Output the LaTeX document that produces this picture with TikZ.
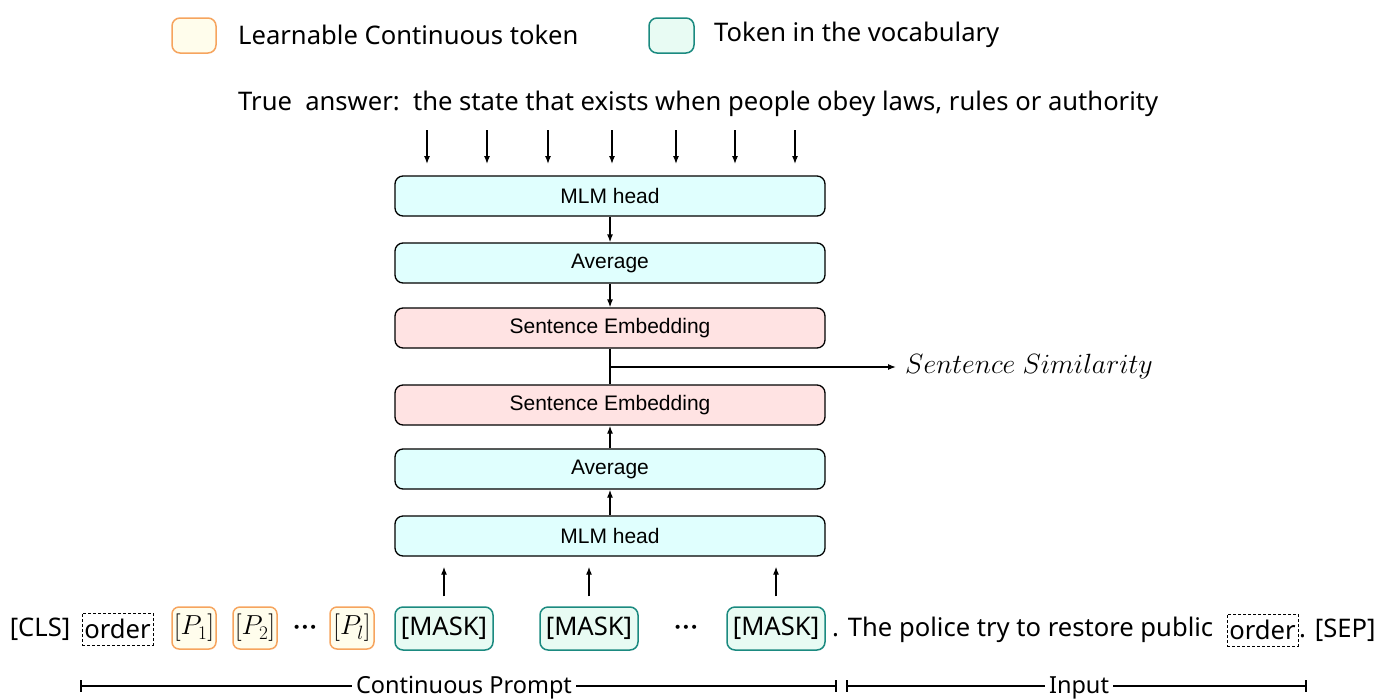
\documentclass[tikz,border=0pt]{standalone}
\usepackage{fix-cm}
\usepackage{fontspec}
\setmainfont{Noto Sans}
\newfontfamily\boxfont{Liberation Sans}
\newfontfamily\dotfont{DejaVu Sans}
\usetikzlibrary{arrows.meta}

\definecolor{cyanfill}{HTML}{E0FFFE}
\definecolor{pinkfill}{HTML}{FFE3E3}
\definecolor{orgborder}{HTML}{F6A45E}
\definecolor{orgfill}{HTML}{FFFDEC}
\definecolor{tealborder}{HTML}{1B8A80}
\definecolor{tealfill}{HTML}{E8FBF3}

\tikzset{
  layer/.style={draw=black, line width=1.3pt, rounded corners=8pt,
    minimum width=430pt, minimum height=40pt, inner sep=0pt,
    font=\boxfont\fontsize{21}{24}\selectfont},
  cyanlayer/.style={layer, fill=cyanfill},
  pinklayer/.style={layer, fill=pinkfill},
  learnable/.style={draw=orgborder, fill=orgfill, line width=1.5pt,
    rounded corners=7pt, minimum width=44pt, minimum height=42pt, inner sep=0pt,
    font=\fontsize{27.5}{30}\selectfont},
  vocab/.style={draw=tealborder, fill=tealfill, line width=1.5pt,
    rounded corners=8pt, minimum width=98pt, minimum height=43pt, inner sep=0pt},
  wordbox/.style={draw=black, dashed, line width=0.8pt, dash pattern=on 3pt off 2pt,
    minimum width=71pt, minimum height=32pt, inner sep=0pt},
  plain/.style={inner sep=0pt},
  ellipsis/.style={inner sep=0pt, font=\dotfont\fontsize{14}{16}\selectfont},
  spanlabel/.style={inner sep=0pt, fill=white, inner xsep=4pt,
    font=\fontsize{23.5}{26}\selectfont},
  arr/.style={-{Latex[length=8pt,width=6pt]}, line width=1.3pt},
  link/.style={line width=1.3pt},
}

\begin{document}
\begin{tikzpicture}[x=1pt,y=-1pt, font=\fontsize{25.6}{30}\selectfont]
\useasboundingbox (0,0) rectangle (1391,699);

% legend
\node[learnable, minimum height=35pt, rounded corners=8pt] (legL) at (194,35.5) {};
\node[plain, anchor=west] (legLt) at (238,35) {Learnable Continuous token};
\node[vocab, minimum width=45pt, minimum height=35pt] (legV) at (671.5,35.5) {};
\node[plain, anchor=west] (legVt) at (714,35) {Token in the vocabulary};

% target answer
\node[plain, anchor=west] (ans) at (238,104) {True\ \ answer:\ \ the state that exists when people obey laws, rules or authority};

% layer stack
\node[cyanlayer] (mlmt) at (610,196) {MLM head};
\node[cyanlayer] (avgt) at (610,263) {Average};
\node[pinklayer] (set)  at (610,328) {Sentence Embedding};
\node[pinklayer] (seb)  at (610,405) {Sentence Embedding};
\node[cyanlayer] (avgb) at (610,469) {Average};
\node[cyanlayer] (mlmb) at (610,536) {MLM head};

% answer tokens into the upper MLM head
\foreach \x [count=\i] in {427,487,548,612,676,735,795} {
  \coordinate (a\i) at (\x,130);
  \coordinate (b\i) at (\x,164);
  \draw[arr] (a\i) -- (b\i);
}

\draw[arr] (mlmt.south) -- (avgt.north);
\draw[arr] (avgt.south) -- (set.north);
\draw[link] (set.south) -- (seb.north);
\coordinate (join) at (610,367);
\node[plain, anchor=west, font=\fontsize{27.8}{30}\selectfont] (sim) at (905,367) {$Sentence\ Similarity$};
\draw[arr] (join) -- ([xshift=-9pt]sim.west);
\draw[arr] (avgb.north) -- (seb.south);
\draw[arr] (mlmb.north) -- (avgb.south);

% input sequence
\node[plain] (cls) at (40,629) {[CLS]};
\node[wordbox] (ord1) at (117.5,629) {order};
\node[learnable] (p1) at (194,628) {$[P_1]$};
\node[learnable] (p2) at (255,628) {$[P_2]$};
\node[ellipsis] (d1) at (305,629) {•••};
\node[learnable] (pl) at (352,628) {$[P_l]$};
\node[vocab] (m1) at (444,628.5) {[MASK]};
\node[vocab] (m2) at (589,628.5) {[MASK]};
\node[ellipsis] (d2) at (686,629) {•••};
\node[vocab] (m3) at (776,628.5) {[MASK]};
\node[plain, anchor=west] (ctx) at (832,630) {. The police try to restore public};
\node[wordbox] (ord2) at (1262.5,630) {order};
\node[plain, anchor=west] (sep) at (1299,630) {. [SEP]};

\foreach \m in {m1,m2,m3}
  \draw[arr, shorten <=10pt, shorten >=10pt] (\m.north) -- (\m.north |- mlmb.south);

% segment spans
\coordinate (cpL) at (81,686);
\coordinate (cpR) at (836,686);
\coordinate (inL) at (847,686);
\coordinate (inR) at (1306,686);
\node[spanlabel] (cpt) at (464,688) {Continuous Prompt};
\node[spanlabel] (int) at (1079,688) {Input};
\draw[link] (cpL) ++(0,-6) -- ++(0,12);
\draw[link] (cpL) -- (cpL -| cpt.west);
\draw[link] (cpR -| cpt.east) -- (cpR);
\draw[link] (cpR) ++(0,-6) -- ++(0,12);
\draw[link] (inL) ++(0,-6) -- ++(0,12);
\draw[link] (inL) -- (inL -| int.west);
\draw[link] (inR -| int.east) -- (inR);
\draw[link] (inR) ++(0,-6) -- ++(0,12);
\end{tikzpicture}
\end{document}
